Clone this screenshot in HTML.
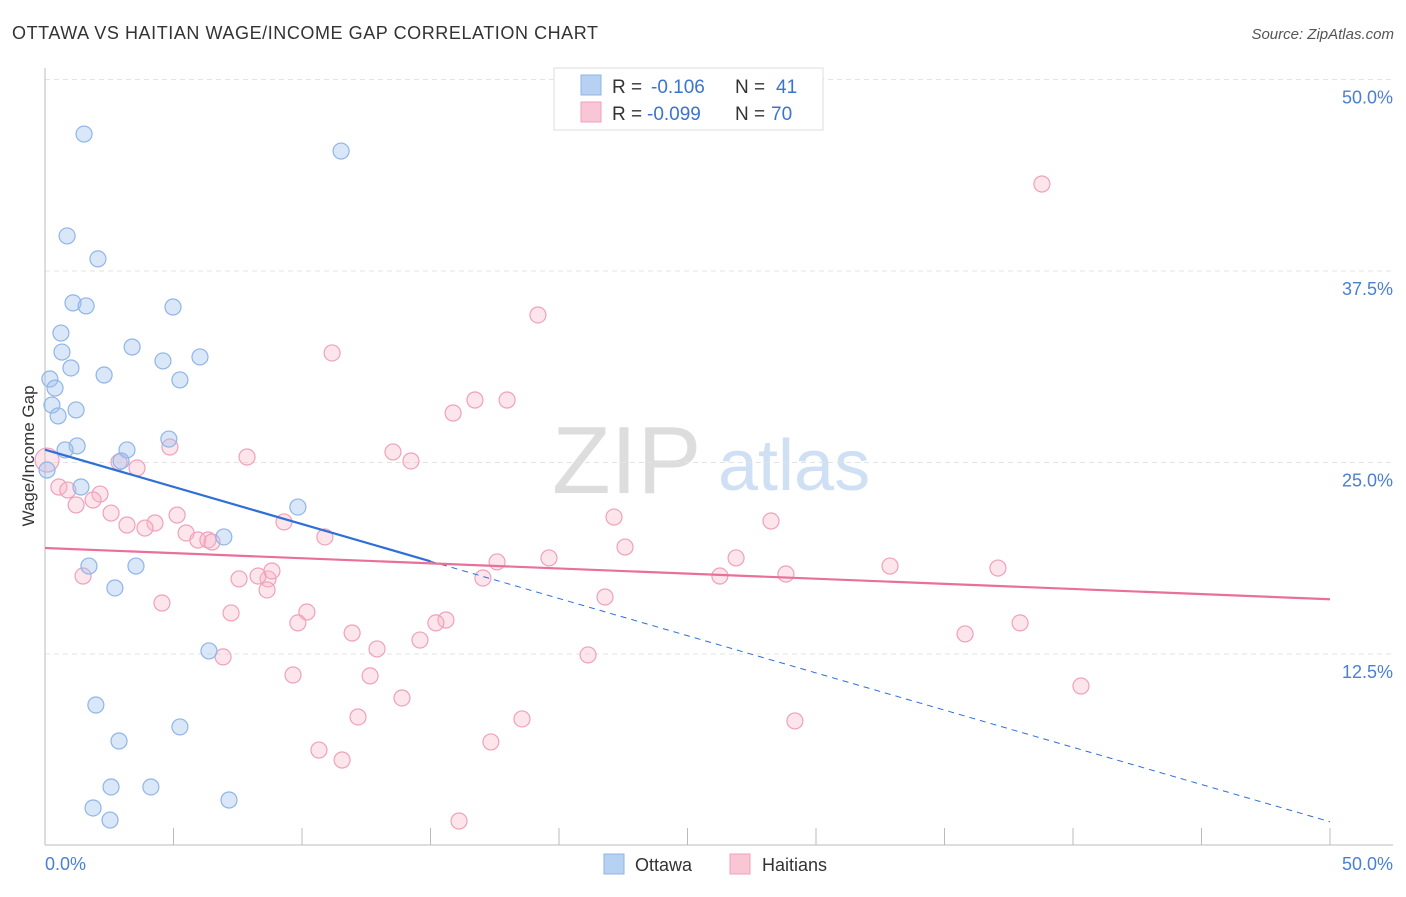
<!DOCTYPE html>
<html><head><meta charset="utf-8"><style>
body{margin:0;background:#fff;font-family:"Liberation Sans",sans-serif;}
svg text{font-family:"Liberation Sans",sans-serif;}
</style></head><body>
<svg id="chart" width="1406" height="892" xmlns="http://www.w3.org/2000/svg">
<text x="12" y="39" font-size="18" fill="#333" textLength="586">OTTAWA VS HAITIAN WAGE/INCOME GAP CORRELATION CHART</text>
<text x="1394" y="39" font-size="15" fill="#555" text-anchor="end" font-style="italic">Source: ZipAtlas.com</text>
<g>
<text x="552" y="493" font-size="96" fill="#ddd" font-family="Liberation Serif,serif">ZIP</text>
<text x="718" y="490" font-size="72" fill="#cfe0f5">atlas</text>
</g>
<g id="grid"></g>
<g id="axes"></g>
<g id="marks"></g>
<g id="trends"></g>
<text transform="translate(34,456) rotate(-90)" font-size="17" fill="#333" text-anchor="middle">Wage/Income Gap</text>
<text x="45" y="870" font-size="18" fill="#4a7fd4">0.0%</text>
<text x="1393" y="870" font-size="18" fill="#4a7fd4" text-anchor="end">50.0%</text>
<g>
<rect x="554" y="68" width="269" height="62" fill="#fff" stroke="#ddd"/>
<rect x="581" y="75" width="20" height="20" fill="#b7d1f2" stroke="#8fb5e6"/>
<text x="612" y="93" font-size="19" fill="#333">R =</text>
<text x="651" y="93" font-size="19" fill="#3a73d0">-0.106</text>
<text x="735" y="93" font-size="19" fill="#333">N =</text>
<text x="776" y="93" font-size="19" fill="#3a73d0">41</text>
<rect x="581" y="102" width="20" height="20" fill="#f9c6d5" stroke="#f0a0bb"/>
<text x="612" y="120" font-size="19" fill="#333">R =</text>
<text x="647" y="120" font-size="19" fill="#3a73d0">-0.099</text>
<text x="735" y="120" font-size="19" fill="#333">N =</text>
<text x="771" y="120" font-size="19" fill="#3a73d0">70</text>
</g>
<g>
<rect x="604" y="854" width="20" height="20" fill="#b7d1f2" stroke="#8fb5e6"/>
<text x="635" y="871" font-size="18" fill="#333">Ottawa</text>
<rect x="730" y="854" width="20" height="20" fill="#f9c6d5" stroke="#f0a0bb"/>
<text x="762" y="871" font-size="18" fill="#333">Haitians</text>
</g>
</svg>
<script>
const ottawaX=[1.52,11.52,0.86,2.06,1.09,1.60,4.98,0.62,0.66,3.39,1.01,4.59,6.03,2.30,5.25,0.19,0.39,0.27,1.21,0.51,4.82,1.25,0.78,3.19,2.96,0.08,1.40,9.84,6.96,1.71,3.54,2.72,6.38,1.98,5.25,2.88,2.57,4.12,1.87,2.53,7.16];
const ottawaY=[46.44,45.33,39.79,38.29,35.42,35.22,35.15,33.45,32.21,32.54,31.17,31.63,31.89,30.71,30.39,30.45,29.86,28.75,28.43,28.04,26.53,26.08,25.82,25.82,25.10,24.51,23.40,22.09,20.14,18.24,18.24,16.81,12.70,9.17,7.74,6.82,3.82,3.82,2.45,1.66,2.97];
const haitiX=[0.08,38.79,19.18,11.17,16.73,17.98,15.88,13.54,14.24,7.86,4.86,3.58,2.88,0.54,0.89,2.14,1.87,1.21,2.57,5.14,4.28,3.19,3.89,5.49,5.95,6.34,6.50,9.30,10.89,22.14,28.25,22.57,19.61,26.89,17.59,32.88,37.08,17.04,26.26,28.83,1.48,8.68,7.55,8.29,8.83,8.64,4.55,21.79,10.19,7.24,9.84,15.60,15.21,11.95,14.59,12.92,35.80,37.94,21.13,6.93,9.65,12.65,40.31,13.89,12.18,18.56,29.18,17.35,10.66,11.56,16.11];
const haitiY=[25.16,43.18,34.63,32.15,29.08,29.08,28.23,25.69,25.10,25.36,26.01,24.64,25.03,23.40,23.20,22.94,22.55,22.23,21.70,21.57,21.05,20.92,20.72,20.40,19.94,19.94,19.81,21.12,20.14,21.44,21.18,19.48,18.77,18.77,18.51,18.24,18.11,17.46,17.59,17.72,17.59,17.40,17.40,17.59,17.92,16.68,15.83,16.22,15.24,15.18,14.53,14.72,14.53,13.87,13.41,12.83,13.81,14.53,12.44,12.31,11.13,11.07,10.41,9.63,8.39,8.26,8.13,6.76,6.23,5.58,1.60];
const yTicks=[12.5,25.0,37.5,50.0];
const yTickLabels=["12.5%","25.0%","37.5%","50.0%"];
const xTicks=[0,5,10,15,20,25,30,35,40,45,50];

const NS="http://www.w3.org/2000/svg";
const X=v=>45+v*25.7;
const Y=v=>845.5-v*15.32;
function mk(tag,attrs,parent){const e=document.createElementNS(NS,tag);for(const k in attrs)e.setAttribute(k,attrs[k]);parent.appendChild(e);return e;}
const grid=document.getElementById('grid'),axes=document.getElementById('axes'),marks=document.getElementById('marks'),trends=document.getElementById('trends');
yTicks.forEach((t,i)=>{
  const l=mk('line',{x1:45,x2:1393,y1:Y(t),y2:Y(t),stroke:'#e3e3e3','stroke-dasharray':'5,4'},grid);
  
  
  const tx=mk('text',{x:1393,y:Y(t)+24,'font-size':18,fill:'#4a7fd4','text-anchor':'end'},axes);
  tx.textContent=yTickLabels[i];
  
  
});
const ax=mk('line',{x1:45,x2:1393,y1:845,y2:845,stroke:'#bbb'},axes);


const ay=mk('line',{x1:45,x2:45,y1:68,y2:845,stroke:'#bbb'},axes);


xTicks.forEach(t=>{
  const l=mk('line',{x1:X(t),x2:X(t),y1:828,y2:845,stroke:'#bbb'},axes);
  
  
});
haitiX.forEach((x,i)=>{
  const c=mk('circle',{cx:X(x),cy:Y(haitiY[i]),r:i===0?12:8,fill:'rgba(248,180,200,0.35)',stroke:'#f0a0bb','stroke-width':1.2},marks);
  
  
});
ottawaX.forEach((x,i)=>{
  const c=mk('circle',{cx:X(x),cy:Y(ottawaY[i]),r:8,fill:'rgba(160,196,240,0.4)',stroke:'#8fb5e6','stroke-width':1.2},marks);
  
  
});
function reg(xs,ys){const n=xs.length;let mx=0,my=0;xs.forEach((x,i)=>{mx+=x;my+=ys[i];});mx/=n;my/=n;let sxy=0,sxx=0;xs.forEach((x,i)=>{sxy+=(x-mx)*(ys[i]-my);sxx+=(x-mx)**2;});const b=sxy/sxx;return [my-b*mx,b];}
const [ao,bo]=reg(ottawaX,ottawaY);
const [ah,bh]=reg(haitiX,haitiY);
const t1=mk('line',{x1:X(0),y1:Y(ao),x2:X(15),y2:Y(ao+bo*15),stroke:'#2f6fd6','stroke-width':2.2},trends);


const t2=mk('line',{x1:X(15),y1:Y(ao+bo*15),x2:X(50),y2:Y(ao+bo*50),stroke:'#2f6fd6','stroke-width':1,'stroke-dasharray':'6,5'},trends);


const t3=mk('line',{x1:X(0),y1:Y(ah),x2:X(50),y2:Y(ah+bh*50),stroke:'#e8709a','stroke-width':2.2},trends);


</script>
</body></html>
